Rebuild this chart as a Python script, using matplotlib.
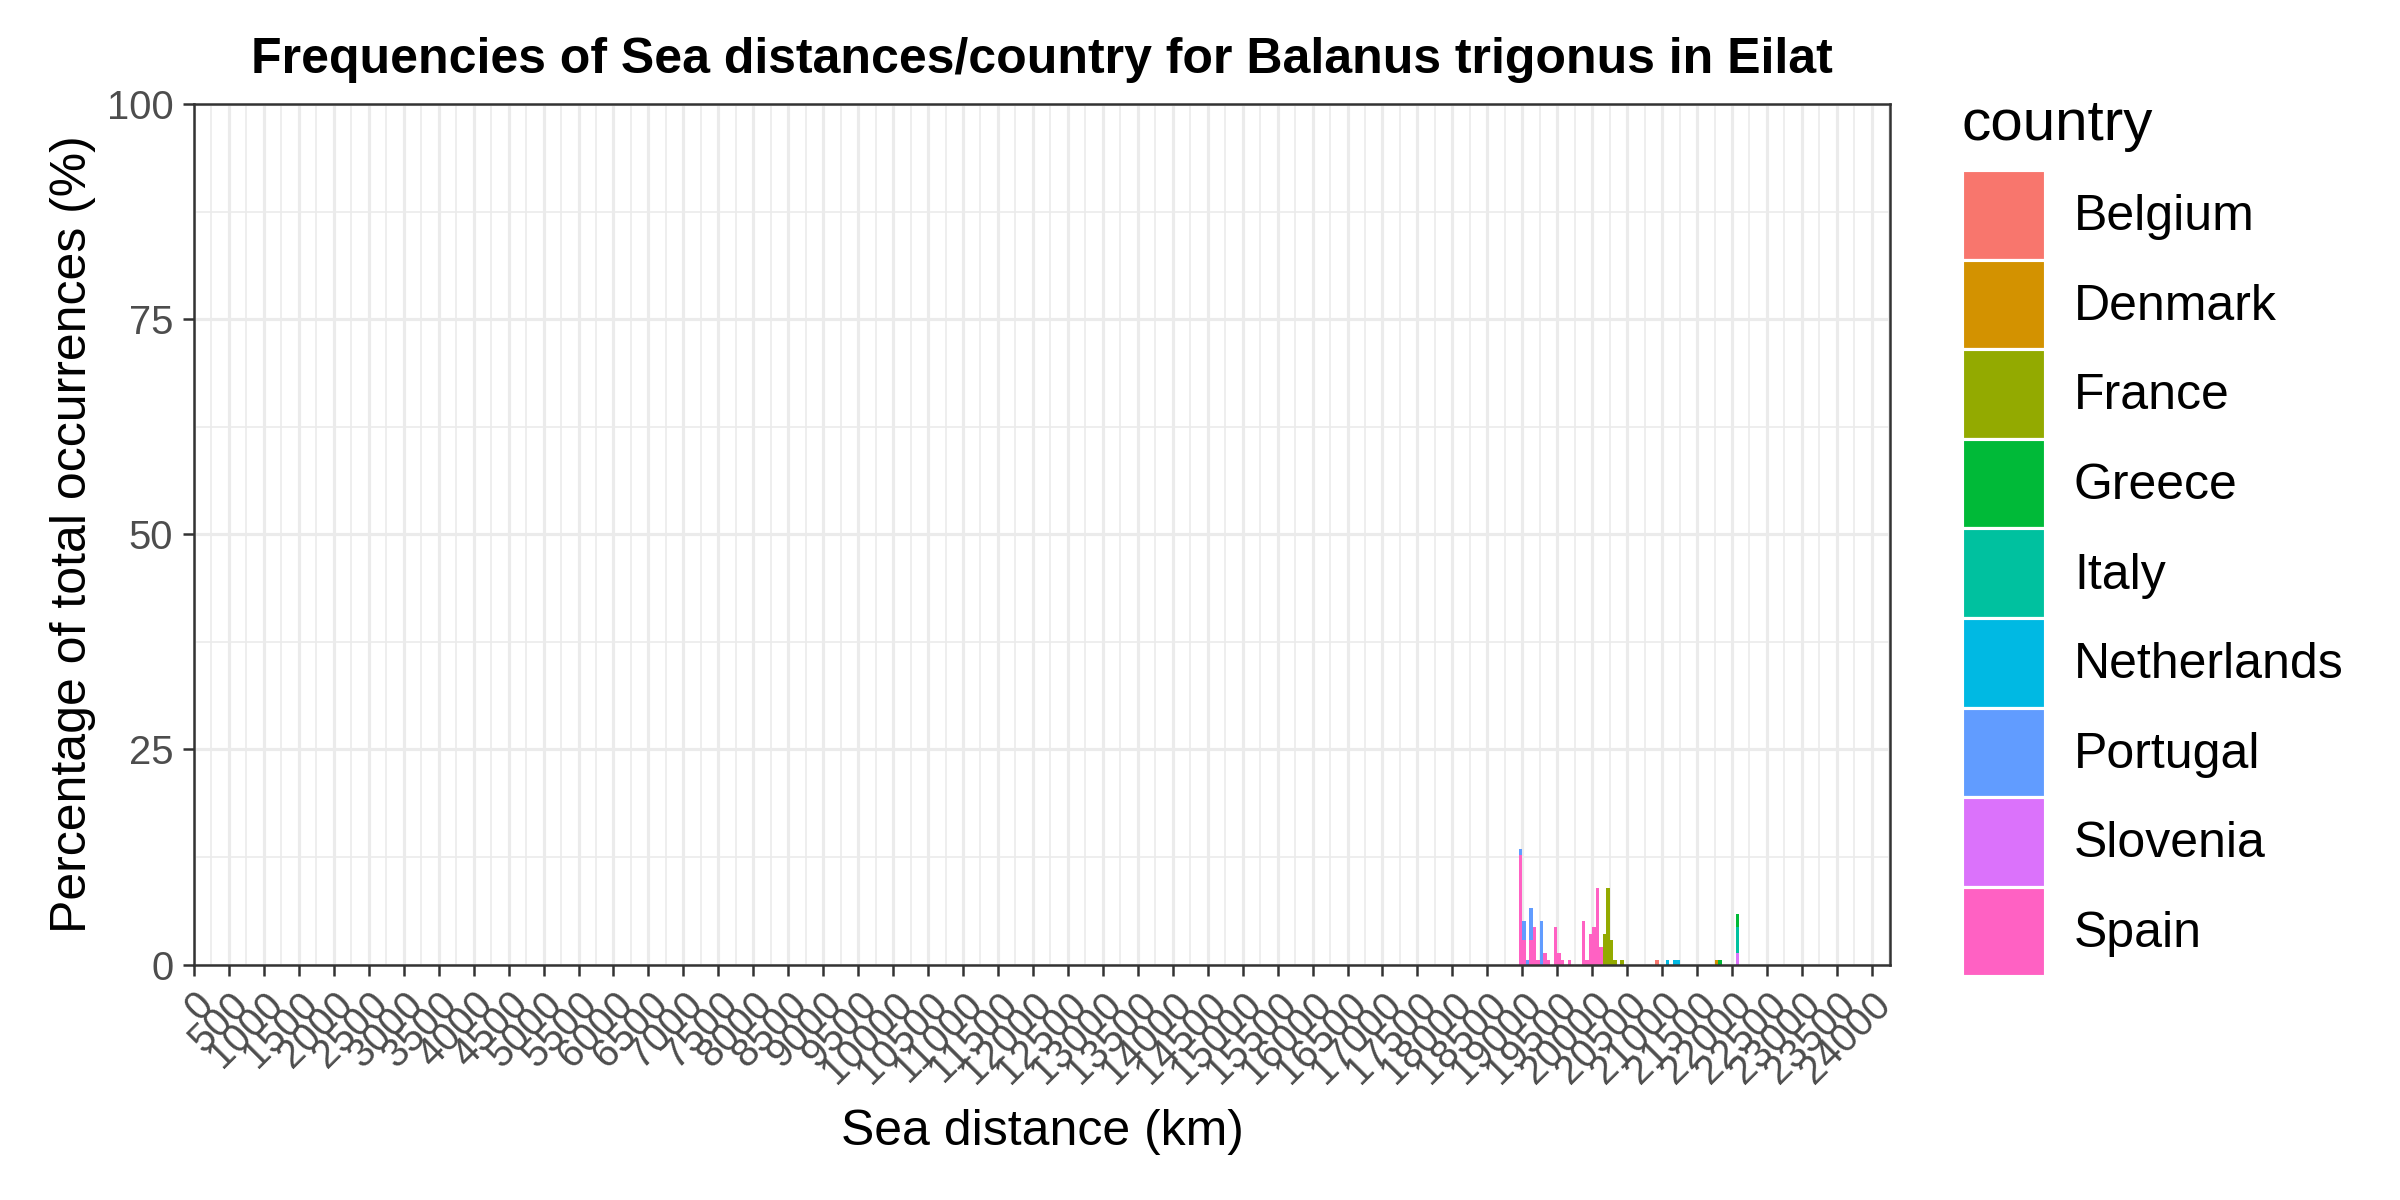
import matplotlib
matplotlib.use("Agg")
import matplotlib.pyplot as plt
import numpy as np
from matplotlib.patches import Patch

plt.rcParams['font.family'] = ['Liberation Sans', 'DejaVu Sans']

# left edge of each 50 km bin that has occurrences
bin_km = [18950, 19000, 19050, 19100, 19150, 19200, 19250, 19300, 19350,
          19450, 19500, 19550, 19650, 19850, 19900, 19950, 20000, 20050,
          20100, 20150, 20200, 20250, 20300, 20400, 20900, 21050, 21150,
          21200, 21750, 21800, 22050]

# percentage of total occurrences per country in each bin
belgium     = [0, 0, 0, 0, 0, 0, 0, 0, 0, 0, 0, 0, 0, 0, 0, 0, 0, 0, 0, 0, 0, 0, 0, 0, 0.5, 0, 0, 0, 0, 0, 0]
denmark     = [0, 0, 0, 0, 0, 0, 0, 0, 0, 0, 0, 0, 0, 0, 0, 0, 0, 0, 0, 0, 0, 0, 0, 0, 0, 0, 0, 0, 0.5, 0, 0]
france      = [0, 0, 0, 0, 0, 0, 0, 0, 0, 0, 0, 0, 0, 0, 0, 0, 0, 0, 0, 3.55, 8.92, 2.86, 0.5, 0.5, 0, 0, 0, 0, 0, 0, 0]
greece      = [0, 0, 0, 0, 0, 0, 0, 0, 0, 0, 0, 0, 0, 0, 0, 0, 0, 0, 0, 0, 0, 0, 0, 0, 0, 0, 0, 0, 0, 0.5, 1.52]
italy       = [0, 0, 0, 0, 0, 0, 0, 0, 0, 0, 0, 0, 0, 0, 0, 0, 0, 0, 0, 0, 0, 0, 0, 0, 0, 0, 0, 0, 0, 0, 3.03]
netherlands = [0, 0, 0, 0, 0, 0, 0, 0, 0, 0, 0, 0, 0, 0, 0, 0, 0, 0, 0, 0, 0, 0, 0, 0, 0, 0.5, 0.5, 0.5, 0, 0, 0]
portugal    = [0.78, 2.21, 0.5, 3.72, 0, 0, 5.07, 0, 0, 0, 0, 0, 0, 0, 0, 0, 0, 0, 0, 0, 0, 0, 0, 0, 0, 0, 0, 0, 0, 0, 0]
slovenia    = [0, 0, 0, 0, 0, 0, 0, 0, 0, 0, 0, 0, 0, 0, 0, 0, 0, 0, 0, 0, 0, 0, 0, 0, 0, 0, 0, 0, 0, 0, 1.34]
spain       = [12.68, 2.86, 0, 2.86, 4.37, 0.5, 0, 1.34, 0.5, 4.37, 1.34, 0.5, 0.5, 5.07, 0.5, 3.55, 4.37, 8.92,
               2.04, 0, 0, 0, 0, 0, 0, 0, 0, 0, 0, 0, 0]

countries = ['Belgium', 'Denmark', 'France', 'Greece', 'Italy', 'Netherlands',
             'Portugal', 'Slovenia', 'Spain']
colors = ['#F8766D', '#D39200', '#93AA00', '#00BA38', '#00C19F', '#00B9E3',
          '#619CFF', '#DB72FB', '#FF61C3']
series = [belgium, denmark, france, greece, italy, netherlands, portugal, slovenia, spain]

fig = plt.figure(figsize=(8, 4), dpi=300)
ax = fig.add_axes([194/2400, 1-964.5/1200, (1890-194)/2400, (964.5-104)/1200])

centers = np.array(bin_km) + 25
bottom = np.zeros(len(bin_km))
# ggplot stacks the first factor level on top, so draw from the last one up
for name, col, vals in zip(countries[::-1], colors[::-1], series[::-1]):
    vals = np.array(vals)
    ax.bar(centers, vals, width=50, bottom=bottom, color=col, linewidth=0, zorder=2)
    bottom += vals

ax.set_xlim(0, 24260)
ax.set_ylim(0, 100)
ax.set_xticks(np.arange(0, 24001, 500))
ax.set_xticks(np.arange(250, 24260, 500), minor=True)
ax.set_yticks([0, 25, 50, 75, 100])
ax.set_yticks([12.5, 37.5, 62.5, 87.5], minor=True)
ax.set_axisbelow(True)
ax.grid(which='major', color='#EBEBEB', linewidth=0.75)
ax.grid(which='minor', color='#EBEBEB', linewidth=0.4)
for s in ax.spines.values():
    s.set_color('#333333')
    s.set_linewidth(0.6)
ax.tick_params(which='major', length=2.75, width=0.6, color='#333333',
               labelcolor='#4D4D4D', labelsize=9.6, pad=2.2)
ax.tick_params(which='minor', length=0)
ax.set_xticklabels([str(v) for v in range(0, 24001, 500)], rotation=45,
                   ha='right', va='top', rotation_mode='anchor')

ax.set_xlabel('Sea distance (km)', fontsize=12, labelpad=4.5)
ax.set_ylabel('Percentage of total occurrences (%)', fontsize=12, labelpad=2.5)
ax.set_title('Frequencies of Sea distances/country for Balanus trigonus in Eilat',
             fontsize=12, fontweight='bold', pad=7.5)

handles = [Patch(facecolor=c, edgecolor='white', linewidth=0.75) for c in colors]
leg = ax.legend(handles, countries, title='country', loc='upper left',
                bbox_to_anchor=(1962/2400, 1-98/1200), bbox_transform=fig.transFigure,
                frameon=False, fontsize=12, title_fontsize=14, handlelength=1.66,
                handleheight=2.38, handletextpad=0.58, labelspacing=0.0,
                borderaxespad=0, borderpad=0, alignment='left')
leg._legend_box.sep = 4.3  # gap between title and keys, in points

fig.savefig('out.png', dpi=300)
